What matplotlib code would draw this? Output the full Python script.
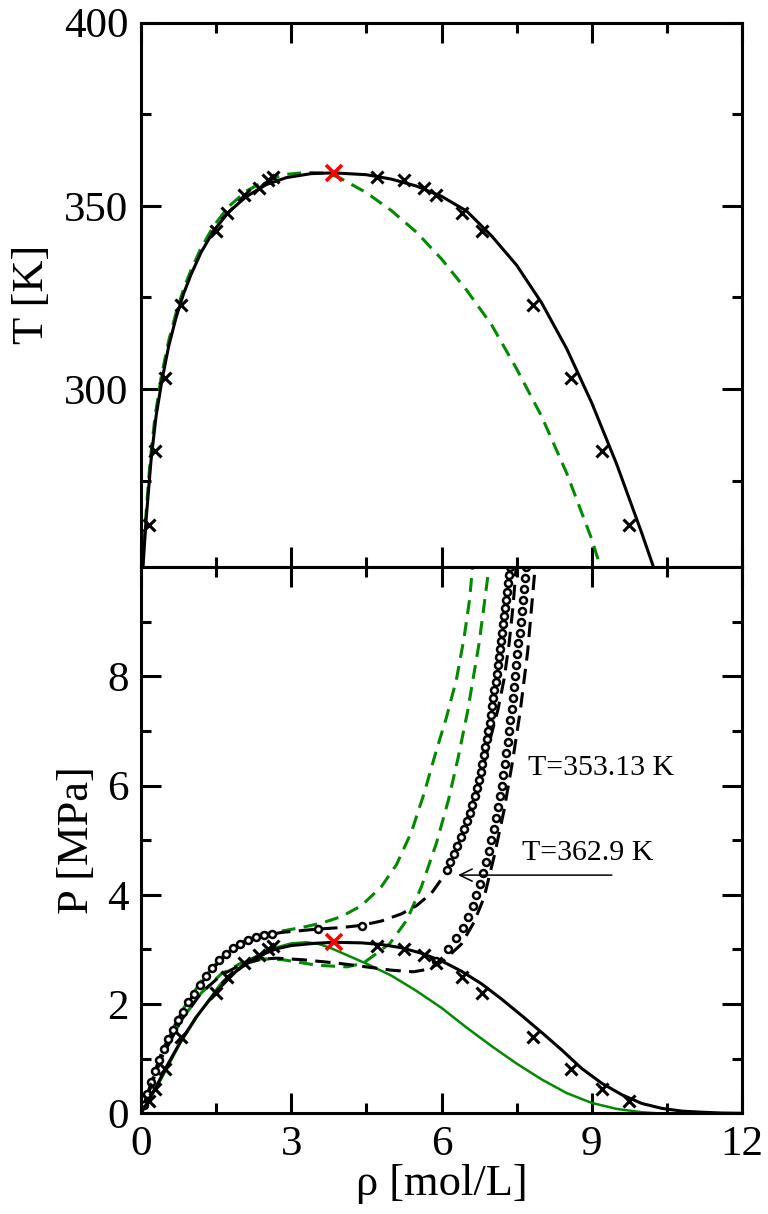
import matplotlib
matplotlib.use("Agg")
import matplotlib.pyplot as plt
from matplotlib.ticker import FixedLocator

plt.rcParams["font.family"] = ["Liberation Serif", "DejaVu Serif"]
plt.rcParams["lines.scale_dashes"] = False

GREEN = "#008b00"

# ---- top panel: T vs rho coexistence ----
rho_model_T = [0.04, 0.1, 0.2, 0.3, 0.42, 0.55, 0.7, 0.85, 1.0, 1.2, 1.45, 1.75, 2.1, 2.5,
               2.9, 3.4, 3.85, 4.5, 5.0, 5.5, 6.0, 6.5, 7.0, 7.5, 8.0, 8.5, 9.0, 9.5,
               10.0, 10.23]
T_model = [251.4, 264, 280.5, 292.5, 302.5, 311.5, 319.5, 326, 331.3, 337.3, 343.2, 348.3,
           352.5, 355.8, 357.7, 358.8, 359.0, 358.5, 357.3, 355.4, 352.6, 348.6, 341.8,
           333.8, 323.5, 311.0, 296.2, 279.4, 260.6, 251.5]

rho_green_T = [0.03, 0.09, 0.18, 0.28, 0.4, 0.55, 0.7, 0.85, 1.0, 1.2, 1.45, 1.75, 2.1,
               2.5, 2.9, 3.3, 3.6, 3.85, 4.0, 4.5, 5.0, 5.5, 6.0, 6.5, 7.0, 7.5, 8.0,
               8.5, 9.0, 9.17]
T_green = [251.4, 264, 280, 292.5, 303, 313, 320.8, 327.3, 332.5, 338.5, 344.5, 349.8,
           354.0, 357.0, 358.6, 359.1, 359.0, 358.3, 357.4, 353.6, 348.7, 342.8, 335.5,
           327.0, 317.5, 305.5, 292.5, 277.0, 259.0, 251.5]

# experimental coexistence data
T_exp = [263, 283, 303, 323, 343, 348, 353, 355, 357, 358]
rho_vap_exp = [0.15, 0.27, 0.47, 0.80, 1.49, 1.72, 2.05, 2.36, 2.53, 2.63]
rho_liq_exp = [9.75, 9.20, 8.58, 7.83, 6.81, 6.40, 5.90, 5.65, 5.25, 4.72]
P_exp = [0.23, 0.44, 0.82, 1.40, 2.21, 2.49, 2.75, 2.89, 3.00, 3.06]

# critical point
rho_crit = 3.86
T_crit = 358.9
P_crit = 3.13

# ---- bottom panel: P vs rho ----
rho_model_P = [0, 0.15, 0.3, 0.5, 0.8, 1.1, 1.5, 1.9, 2.3, 2.7, 3.0, 3.44, 3.85, 4.4,
               4.8, 5.2, 5.6, 6.0, 6.4, 6.8, 7.2, 7.6, 8.0, 8.4, 8.8, 9.2, 9.6, 10.0,
               10.4, 10.8, 11.2, 11.6, 12.0]
P_model = [0, 0.25, 0.48, 0.84, 1.33, 1.76, 2.23, 2.60, 2.86, 3.01, 3.07, 3.11, 3.13, 3.12,
           3.09, 3.03, 2.93, 2.79, 2.60, 2.37, 2.09, 1.79, 1.48, 1.16, 0.82, 0.55, 0.34,
           0.18, 0.09, 0.04, 0.02, 0.005, 0.0]

rho_green_P = [0, 0.2, 0.4, 0.78, 1.2, 1.58, 2.18, 2.6, 3.0, 3.3, 3.55, 3.8, 4.1, 4.5,
               5.0, 5.5, 6.0, 6.5, 7.0, 7.5, 8.0, 8.5, 9.0, 9.5, 10.0, 10.3]
P_green = [0, 0.3, 0.62, 1.28, 1.88, 2.36, 2.82, 3.01, 3.11, 3.13, 3.10, 3.02, 2.90, 2.74,
           2.52, 2.24, 1.93, 1.57, 1.23, 0.91, 0.62, 0.37, 0.19, 0.08, 0.02, 0.0]

# model isotherms (black dashed)
rho_iso353 = [0, 0.4, 0.8, 1.2, 1.6, 2.0, 2.4, 2.71, 3.24, 3.91, 4.5, 5.0, 5.44, 5.75,
              6.05, 6.40, 6.65, 6.85, 7.05, 7.25, 7.42, 7.57, 7.72, 7.87]
P_iso353 = [0, 1.0, 1.7, 2.2, 2.53, 2.72, 2.82, 2.84, 2.81, 2.75, 2.68, 2.62, 2.59, 2.64,
            2.80, 3.10, 3.50, 3.95, 4.70, 5.55, 6.45, 7.35, 8.45, 10.0]

rho_iso363 = [0, 0.4, 0.8, 1.2, 1.6, 2.0, 2.4, 2.8, 3.5, 4.0, 4.4, 4.8, 5.2, 5.5, 5.8,
              6.05, 6.25, 6.45, 6.65, 6.85, 7.0, 7.13, 7.25, 7.35, 7.43, 7.49]
P_iso363 = [0, 1.08, 1.83, 2.38, 2.82, 3.08, 3.24, 3.31, 3.37, 3.40, 3.44, 3.52, 3.65,
            3.80, 4.03, 4.35, 4.72, 5.20, 5.78, 6.40, 6.95, 7.40, 7.95, 8.60, 9.30, 10.0]

# other model isotherms (green dashed)
rho_giso363 = [0, 0.4, 0.8, 1.2, 1.6, 2.0, 2.4, 2.71, 3.2, 3.6, 4.0, 4.4, 4.8, 5.1, 5.4,
               5.65, 5.9, 6.1, 6.3, 6.45, 6.56, 6.62]
P_giso363 = [0, 1.1, 1.85, 2.42, 2.85, 3.13, 3.28, 3.32, 3.40, 3.48, 3.60, 3.80, 4.15,
             4.55, 5.15, 5.85, 6.65, 7.25, 7.95, 8.70, 9.40, 10.0]

rho_giso353 = [0, 0.4, 0.8, 1.2, 1.6, 2.0, 2.4, 2.84, 3.51, 4.11, 4.44, 4.71, 4.97, 5.31,
               5.6, 5.90, 6.14, 6.33, 6.52, 6.75, 6.95]
P_giso353 = [0, 1.0, 1.7, 2.2, 2.55, 2.75, 2.83, 2.81, 2.71, 2.68, 2.75, 2.93, 3.11, 3.54,
             4.15, 4.95, 5.74, 6.50, 7.35, 8.60, 10.0]

# experimental isotherm points (open circles)
rho_exp363 = [0.05, 0.12, 0.2, 0.28, 0.36, 0.45, 0.54, 0.63, 0.73, 0.83, 0.94, 1.05, 1.17,
              1.29, 1.42, 1.55, 1.69, 1.83, 1.98, 2.13, 2.29, 2.45, 2.61, 3.54, 4.41,
              6.10, 6.17, 6.24, 6.31, 6.38, 6.44, 6.50, 6.56, 6.61, 6.66, 6.70, 6.74, 6.78,
              6.81, 6.84, 6.87, 6.90, 6.93, 6.96, 6.98, 7.01, 7.03, 7.05, 7.08, 7.10, 7.12,
              7.14, 7.16, 7.18, 7.20, 7.22, 7.24, 7.27, 7.29, 7.31, 7.33, 7.35, 7.37]
P_exp363 = [0.15, 0.35, 0.57, 0.78, 0.98, 1.18, 1.36, 1.53, 1.70, 1.86, 2.03, 2.19, 2.35,
            2.51, 2.66, 2.80, 2.92, 3.02, 3.10, 3.17, 3.22, 3.26, 3.29, 3.37, 3.43,
            4.45, 4.6, 4.75, 4.9, 5.05, 5.2, 5.35, 5.5, 5.65, 5.8, 5.95, 6.1, 6.25,
            6.4, 6.55, 6.7, 6.85, 7.0, 7.15, 7.3, 7.45, 7.6, 7.75, 7.9, 8.05, 8.2,
            8.35, 8.5, 8.65, 8.8, 8.95, 9.1, 9.25, 9.4, 9.55, 9.7, 9.85, 10.0]

rho_exp353 = [5.90, 6.12, 6.28, 6.42, 6.53, 6.62, 6.69, 6.76, 6.82, 6.88, 6.94, 6.99, 7.04,
              7.08, 7.12, 7.16, 7.20, 7.23, 7.26, 7.29, 7.32, 7.35, 7.37, 7.40, 7.42, 7.45,
              7.47, 7.49, 7.51, 7.53, 7.56, 7.58, 7.60, 7.62, 7.64, 7.66, 7.68]
P_exp353 = [2.78, 3.0, 3.2, 3.4, 3.6, 3.8, 4.0, 4.2, 4.4, 4.6, 4.8, 5.0, 5.2,
            5.4, 5.6, 5.8, 6.0, 6.2, 6.4, 6.6, 6.8, 7.0, 7.2, 7.4, 7.6, 7.8,
            8.0, 8.2, 8.4, 8.6, 8.8, 9.0, 9.2, 9.4, 9.6, 9.8, 10.0]


def style_axis(ax):
    for sp in ax.spines.values():
        sp.set_linewidth(2.2)
    ax.tick_params(which="both", direction="in", top=True, right=True, width=2.2,
                   labelsize=31, pad=9)
    ax.tick_params(which="major", length=14.4)
    ax.tick_params(which="minor", length=7)
    ax.set_xlim(0, 12)
    ax.xaxis.set_major_locator(FixedLocator([0, 3, 6, 9, 12]))
    ax.xaxis.set_minor_locator(FixedLocator([1.5, 4.5, 7.5, 10.5]))


fig = plt.figure(figsize=(7.68, 12.14), dpi=100)
W, H = 768.0, 1214.0
left = 141 / W
width = (742 - 141) / W
ax_t = fig.add_axes([left, 1 - 567 / H, width, (567 - 22.7) / H])
ax_p = fig.add_axes([left, 1 - 1113.3 / H, width, (1113.3 - 567) / H])

dash_g = (0, (10, 6))
dash_k = (0, (11, 6))

# top panel
ax_t.plot(rho_green_T, T_green, color=GREEN, lw=2.2, linestyle=dash_g)
ax_t.plot(rho_model_T, T_model, color="black", lw=2.2)
ax_t.plot(rho_vap_exp, T_exp, "x", color="black", ms=9, mew=2.2)
ax_t.plot(rho_liq_exp, T_exp, "x", color="black", ms=9, mew=2.2)
ax_t.plot([rho_crit], [T_crit], "x", color="red", ms=11, mew=2.6)
style_axis(ax_t)
ax_t.set_ylim(251.4, 400)
ax_t.yaxis.set_major_locator(FixedLocator([300, 350, 400]))
ax_t.yaxis.set_minor_locator(FixedLocator([275, 325, 375]))
ax_t.tick_params(labelbottom=False)
ax_t.set_ylabel("T [K]", fontsize=32)
ax_t.yaxis.set_label_coords(-0.148, 0.5)

# bottom panel
ax_p.plot(rho_giso363, P_giso363, color=GREEN, lw=2.2, linestyle=dash_g)
ax_p.plot(rho_giso353, P_giso353, color=GREEN, lw=2.2, linestyle=dash_g)
ax_p.plot(rho_green_P, P_green, color=GREEN, lw=1.8)
ax_p.plot(rho_iso363, P_iso363, color="black", lw=2.2, linestyle=dash_k)
ax_p.plot(rho_iso353, P_iso353, color="black", lw=2.2, linestyle=dash_k)
ax_p.plot(rho_model_P, P_model, color="black", lw=2.2)
ax_p.plot(rho_exp363, P_exp363, "o", color="black", mfc="white", ms=5, mew=1.8)
ax_p.plot(rho_exp353, P_exp353, "o", color="black", mfc="white", ms=5, mew=1.8)
ax_p.plot(rho_vap_exp, P_exp, "x", color="black", ms=9, mew=2.2)
ax_p.plot(rho_liq_exp, P_exp, "x", color="black", ms=9, mew=2.2)
ax_p.plot([rho_crit], [P_crit], "x", color="red", ms=11, mew=2.6)
style_axis(ax_p)
ax_p.set_ylim(0, 10)
ax_p.yaxis.set_major_locator(FixedLocator([0, 2, 4, 6, 8]))
ax_p.yaxis.set_minor_locator(FixedLocator([1, 3, 5, 7, 9]))
ax_p.set_ylabel("P [MPa]", fontsize=32)
ax_p.yaxis.set_label_coords(-0.073, 0.5)
ax_p.set_xlabel("ρ [mol/L]", fontsize=32)
ax_p.xaxis.set_label_coords(0.5, -0.093)

ax_p.text(7.73, 6.19, "T=353.13 K", fontsize=21.5, va="baseline")
ax_p.text(7.60, 4.64, "T=362.9 K", fontsize=21.5, va="baseline")
ax_p.annotate("", xy=(6.33, 4.36), xytext=(9.40, 4.36),
              arrowprops=dict(arrowstyle="->,head_length=0.45,head_width=0.22",
                              lw=1.1, color="black", shrinkA=0, shrinkB=0,
                              mutation_scale=20))

fig.savefig("out.png", dpi=100)
